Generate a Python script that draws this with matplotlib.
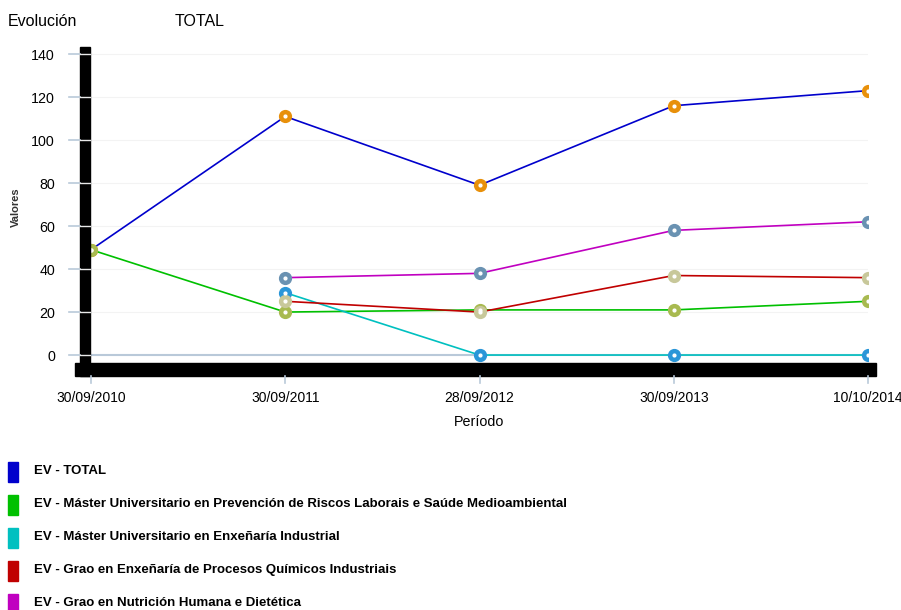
import matplotlib
matplotlib.use('Agg')
import matplotlib.pyplot as plt
from matplotlib.patches import Rectangle
import numpy as np

plt.rcParams['font.family'] = ['Liberation Sans', 'DejaVu Sans']

periods = ['30/09/2010', '30/09/2011', '28/09/2012', '30/09/2013', '10/10/2014']

total = [49, 111, 79, 116, 123]
master_prevencion = [49, 20, 21, 21, 25]
master_industrial = [None, 29, 0, 0, 0]
grao_quimicos = [None, 25, 20, 37, 36]
grao_nutricion = [None, 36, 38, 58, 62]

series_names = [
    'EV - TOTAL',
    'EV - Máster Universitario en Prevención de Riscos Laborais e Saúde Medioambiental',
    'EV - Máster Universitario en Enxeñaría Industrial',
    'EV - Grao en Enxeñaría de Procesos Químicos Industriais',
    'EV - Grao en Nutrición Humana e Dietética',
]
series_values = [total, master_prevencion, master_industrial, grao_quimicos, grao_nutricion]
line_colors = ['#0000CC', '#00C000', '#00C0C0', '#C00000', '#C000C0']
marker_colors = ['#E8900A', '#A8BA50', '#2A96D8', '#C8C89A', '#6A92B2']

y_ticks = [0, 20, 40, 60, 80, 100, 120, 140]

W, H = 901, 610
fig = plt.figure(figsize=(W / 100, H / 100), dpi=100)

def px(x0, y0, x1, y1):
    # pixel box -> figure fraction [left, bottom, width, height]
    return [x0 / W, 1 - y1 / H, (x1 - x0) / W, (y1 - y0) / H]

ax = fig.add_axes(px(91, 47, 868, 363))
ax.set_xlim(0, 4)
ax.set_ylim(-3.7, 143.3)
for s in ax.spines.values():
    s.set_visible(False)

# faint grid
for v in y_ticks[1:]:
    ax.axhline(v, color='#F3F3F3', lw=0.8, zorder=0)
ax.axhline(0, color='#B9C9D9', lw=1.5, zorder=1)

x = np.arange(len(periods))
for vals, lc in zip(series_values, line_colors):
    xs = [xi for xi, v in zip(x, vals) if v is not None]
    ys = [v for v in vals if v is not None]
    ax.plot(xs, ys, color=lc, lw=1.2, zorder=2)
for vals, mc in zip(series_values, marker_colors):
    xs = [xi for xi, v in zip(x, vals) if v is not None]
    ys = [v for v in vals if v is not None]
    ax.plot(xs, ys, ls='none', marker='o', ms=8.5, mfc=mc, mec=mc, zorder=3)
    ax.plot(xs, ys, ls='none', marker='o', ms=2, mfc='white', mec='white', zorder=4)

ax.set_xticks(x)
ax.set_xticklabels(periods, fontsize=10)
ax.set_yticks(y_ticks)
ax.set_yticklabels([str(v) for v in y_ticks], fontsize=10.3)
ax.tick_params(axis='y', length=0, pad=26)
ax.tick_params(axis='x', length=0, pad=20)

# black axis bars
b = px(80, 47, 90, 376)
fig.add_artist(Rectangle((b[0], b[1]), b[2], b[3], transform=fig.transFigure,
                         color='black', zorder=5))
b = px(75, 363, 876, 376)
fig.add_artist(Rectangle((b[0], b[1]), b[2], b[3], transform=fig.transFigure,
                         color='black', zorder=5))

# y tick marks crossing the bar
trans_y = matplotlib.transforms.blended_transform_factory(fig.transFigure, ax.transData)
for v in y_ticks:
    fig.add_artist(plt.Line2D([69 / W, 80 / W], [v, v], transform=trans_y,
                              color='#B9C9D9', lw=1.2, zorder=6))
    fig.add_artist(plt.Line2D([80 / W, 90 / W], [v, v], transform=trans_y,
                              color='#E8E8E8', lw=1.0, zorder=6))
# x tick marks below the bar
trans_x = matplotlib.transforms.blended_transform_factory(ax.transData, fig.transFigure)
for xi in x:
    fig.add_artist(plt.Line2D([xi, xi], [1 - 376 / H, 1 - 383 / H], transform=trans_x,
                              color='#B9C9D9', lw=1.2, zorder=6))

ax.set_xlabel('Período', fontsize=10.3, labelpad=7)
fig.text(16 / W, 1 - 207 / H, 'Valores', rotation=90, fontsize=8, fontweight='bold',
         color='#333333', ha='center', va='center')

fig.text(8 / W, 1 - 22 / H, 'Evolución', fontsize=11.5, va='center', ha='left')
fig.text(175 / W, 1 - 22 / H, 'TOTAL', fontsize=11.5, va='center', ha='left')

# legend
for i, (name, c) in enumerate(zip(series_names, line_colors)):
    top = 462 + i * 33.1
    fig.add_artist(Rectangle((8 / W, 1 - (top + 20) / H), 10 / W, 20 / H,
                             transform=fig.transFigure, color=c))
    fig.text(34 / W, 1 - (top + 9) / H, name, fontsize=9.5, fontweight='bold',
             va='center', ha='left')

fig.savefig('out.png', dpi=100)
